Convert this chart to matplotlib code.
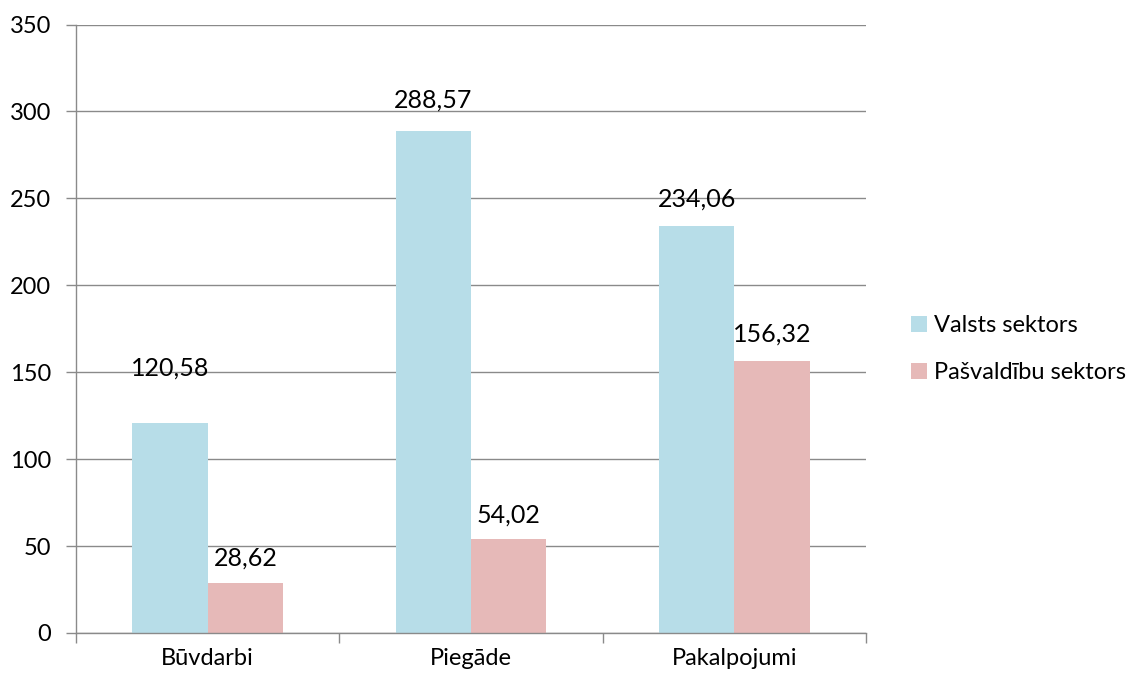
import numpy as np
import matplotlib.pyplot as plt

plt.rcParams['font.family'] = ['Lato', 'DejaVu Sans']

categories = ['Būvdarbi', 'Piegāde', 'Pakalpojumi']
valsts = [120.58, 288.57, 234.06]
pasvaldibu = [28.62, 54.02, 156.32]
series_names = ['Valsts sektors', 'Pašvaldību sektors']

# distance of label centre above bar top (pixels)
valsts_off = [55, 31, 27]
pasv_off = [25, 24, 27]

FS = 17

fig = plt.figure(figsize=(11.33, 6.81), dpi=100)
ax = fig.add_axes([0.0671, 0.0705, 0.6972, 0.8935])

x = np.arange(len(categories))
w = 0.286
b1 = ax.bar(x - w / 2, valsts, w, color='#B7DDE8', label=series_names[0], zorder=2)
b2 = ax.bar(x + w / 2, pasvaldibu, w, color='#E6B9B8', label=series_names[1], zorder=2)

for bars, vals, offs in [(b1, valsts, valsts_off), (b2, pasvaldibu, pasv_off)]:
    for rect, v, o in zip(bars, vals, offs):
        ax.annotate(f'{v:.2f}'.replace('.', ','),
                    (rect.get_x() + rect.get_width() / 2, v),
                    xytext=(0, o * 0.72), textcoords='offset points',
                    ha='center', va='center', fontsize=18)

ax.set_ylim(0, 350)
ax.set_xlim(-0.5, 2.5)
ax.set_yticks(np.arange(0, 351, 50))
ax.yaxis.grid(True, color='#8a8a8a', linewidth=1, zorder=0)
ax.set_axisbelow(True)

ax.set_xticks([-0.5, 0.5, 1.5, 2.5])
ax.set_xticklabels([])
ax.set_xticks(x, minor=True)
ax.set_xticklabels(categories, minor=True, fontsize=FS)
ax.tick_params(axis='x', which='minor', length=0, pad=11)
ax.tick_params(axis='x', which='major', length=7, color='#8a8a8a', width=1)
ax.tick_params(axis='y', length=7, color='#8a8a8a', width=1, labelsize=FS, pad=11)

for s in ['top', 'right']:
    ax.spines[s].set_visible(False)
for s in ['left', 'bottom']:
    ax.spines[s].set_color('#8a8a8a')
    ax.spines[s].set_linewidth(1)

fig.legend(loc='center left', bbox_to_anchor=(0.785, 0.487), frameon=False,
           fontsize=17, handlelength=0.7, handleheight=0.7,
           handletextpad=0.3, labelspacing=1.1)

fig.savefig('out.png', dpi=100)
